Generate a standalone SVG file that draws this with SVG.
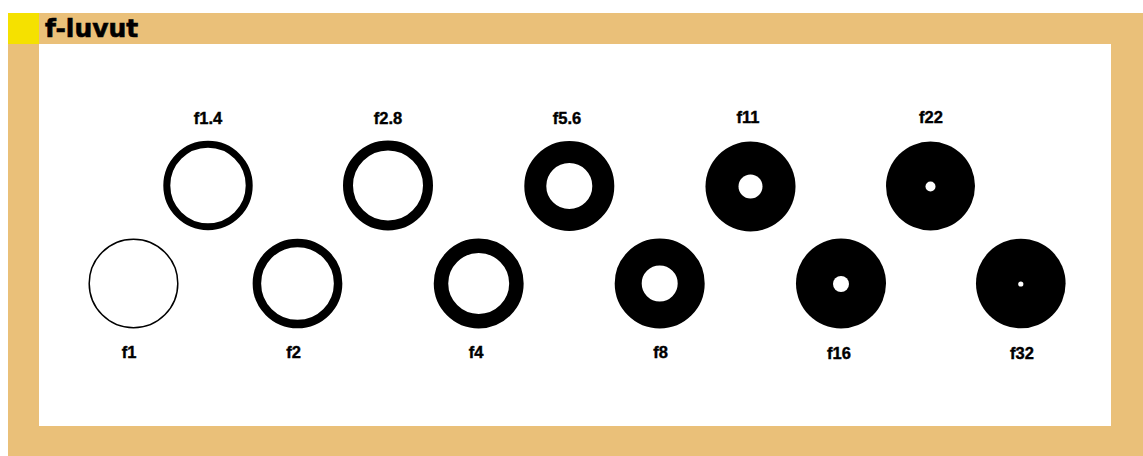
<svg xmlns="http://www.w3.org/2000/svg" width="1143" height="456" viewBox="0 0 1143 456">
<style>
.lbl{font-family:"Liberation Sans",Arial,sans-serif;font-weight:bold;font-size:16.5px;fill:#000;stroke:#000;stroke-width:0.4;text-anchor:middle}
.title{font-family:"DejaVu Sans",sans-serif;font-weight:bold;font-size:25px;fill:#000;stroke:#000;stroke-width:0.6}
.ring{fill:none;stroke:#000}
.disc{fill:#000}
.hole{fill:#fff}
</style>
<rect x="0" y="0" width="1143" height="456" fill="#fff"/>
<rect x="8" y="13" width="1135" height="443" fill="#EAC079"/>
<rect x="8" y="13" width="31" height="31" fill="#F5E100"/>
<rect x="39" y="44" width="1072" height="382" fill="#fff"/>
<text class="title" x="45" y="37">f-luvut</text>
<g id="f1"><circle class="ring" cx="133.5" cy="283.5" r="44.3" stroke-width="1.5"/><text class="lbl" x="129" y="358">f1</text></g>
<g id="f1_4"><circle class="ring" cx="208" cy="185.5" r="41.2" stroke-width="7"/><text class="lbl" x="208" y="124">f1.4</text></g>
<g id="f2"><circle class="ring" cx="297.5" cy="283.5" r="40.6" stroke-width="8.5"/><text class="lbl" x="293.5" y="358">f2</text></g>
<g id="f2_8"><circle class="ring" cx="388" cy="185.5" r="40" stroke-width="10"/><text class="lbl" x="388" y="124">f2.8</text></g>
<g id="f4"><circle class="ring" cx="478.7" cy="283.5" r="37.7" stroke-width="14.5"/><text class="lbl" x="476" y="358">f4</text></g>
<g id="f5_6"><circle class="ring" cx="569.3" cy="186" r="34" stroke-width="22"/><text class="lbl" x="567" y="124">f5.6</text></g>
<g id="f8"><circle class="ring" cx="659.7" cy="283.5" r="31.5" stroke-width="27"/><text class="lbl" x="660.5" y="358">f8</text></g>
<g id="f11"><circle class="disc" cx="750.5" cy="186.5" r="45"/><circle class="hole" cx="750.5" cy="186.5" r="12"/><text class="lbl" x="748" y="123">f11</text></g>
<g id="f16"><circle class="disc" cx="841" cy="283.5" r="45"/><circle class="hole" cx="841" cy="284" r="8"/><text class="lbl" x="839" y="359">f16</text></g>
<g id="f22"><circle class="disc" cx="930.5" cy="186" r="44.5"/><circle class="hole" cx="930.5" cy="186.5" r="5"/><text class="lbl" x="931" y="123">f22</text></g>
<g id="f32"><circle class="disc" cx="1020.8" cy="283.5" r="44.8"/><circle class="hole" cx="1020.8" cy="284" r="2.6"/><text class="lbl" x="1022" y="359">f32</text></g>
<g id="connectors"/>
</svg>
